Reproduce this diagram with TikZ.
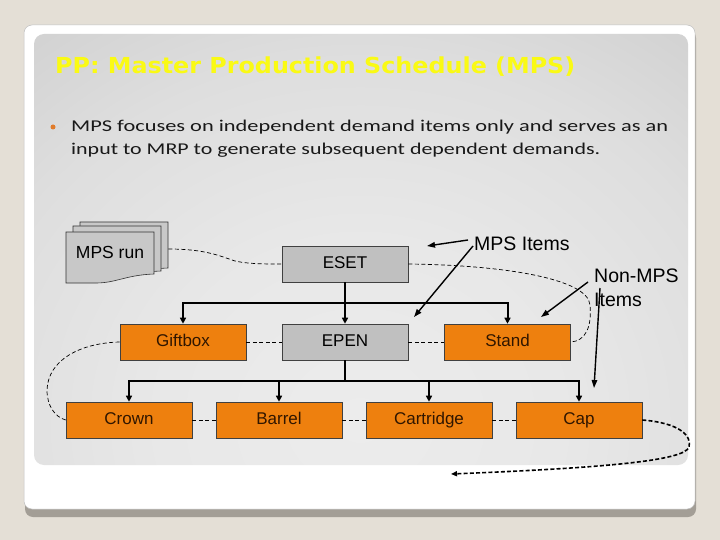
\documentclass[tikz,border=0pt]{standalone}
\usepackage{fontspec}
\setmainfont{Liberation Sans}
\newfontfamily\titlefont{DejaVu Sans}
\newfontfamily\bodyfont{Carlito}
\usetikzlibrary{arrows.meta}
\definecolor{pagebg}{RGB}{228,223,214}
\definecolor{cardshadow}{RGB}{163,158,150}
\definecolor{pcA}{RGB}{236,236,236}
\definecolor{pcB}{RGB}{232,232,232}
\definecolor{pcC}{RGB}{222,222,222}
\definecolor{pcD}{RGB}{205,205,205}
\definecolor{pcE}{RGB}{180,180,180}
\definecolor{pcF}{RGB}{164,164,164}
\definecolor{pcG}{RGB}{158,158,158}
\pgfdeclareradialshading{panelshade}{\pgfpoint{0bp}{0bp}}{color(0bp)=(pcA); color(6.25bp)=(pcB); color(12.5bp)=(pcC); color(18.75bp)=(pcD); color(25bp)=(pcE); color(30bp)=(pcF); color(50bp)=(pcG)}
\definecolor{boxgray}{RGB}{192,192,192}
\definecolor{boxorange}{RGB}{238,128,14}
\definecolor{boxtext}{RGB}{48,22,0}
\definecolor{titleyellow}{RGB}{250,250,20}
\definecolor{bulletorange}{RGB}{224,123,42}
\definecolor{sheetgray}{RGB}{200,200,200}
\begin{document}
\begin{tikzpicture}[x=1pt,y=-1pt,
  box/.style={draw=black!75, line width=0.6pt, fill=boxgray, minimum width=126pt, minimum height=36pt, inner sep=0pt, text height=12.3pt, text depth=3.6pt, font=\fontsize{17}{20}\selectfont},
  obox/.style={box, fill=boxorange, text=boxtext},
  treeline/.style={line width=2pt, -{Triangle[length=6pt,width=6pt]}},
  plainline/.style={line width=2pt},
  linkdash/.style={line width=0.7pt, dash pattern=on 4pt off 2.5pt},
  calloutarrow/.style={line width=1.4pt, -{Triangle[length=8pt,width=5.5pt]}},
  lbl/.style={font=\fontsize{19.5}{24}\selectfont, inner sep=0pt},
  sheet/.style={draw=black!80, line width=0.6pt, fill=sheetgray}]
\useasboundingbox (0,0) rectangle (720,540);
% page, card and panel
\fill[pagebg] (0,0) rectangle (720,540);
\fill[cardshadow, rounded corners=8pt] (25,30) rectangle (696,517);
\filldraw[fill=white, draw=black!25, line width=0.5pt, rounded corners=8pt] (24,25) rectangle (695,509);
\begin{scope}
  \clip[rounded corners=10pt] (34,34) rectangle (688,465);
  \shade[shading=panelshade] (-440,-300) rectangle (1160,1140);
\end{scope}
% title and bullet text
\node[anchor=base west, inner sep=0pt, text=titleyellow] (title) at (55,74)
  {\resizebox{520pt}{\height}{\titlefont\bfseries\fontsize{22}{26}\selectfont PP: Master Production Schedule (MPS)}};
\node[circle, fill=bulletorange, minimum size=5pt, inner sep=0pt] (bullet) at (53,127) {};
\node[anchor=base west, inner sep=0pt, text=black!90] (line1) at (71,132)
  {\resizebox{597pt}{\height}{\bodyfont\fontsize{16.5}{19}\selectfont MPS focuses on independent demand items only and serves as an}};
\node[anchor=base west, inner sep=0pt, text=black!90] (line2) at (71,155)
  {\resizebox{529pt}{\height}{\bodyfont\fontsize{16.5}{19}\selectfont input to MRP to generate subsequent dependent demands.}};
% MPS run document stack
\filldraw[sheet] (80,222) -- (168,222) -- (168,268) .. controls (140,269) and (130,277) .. (110,277) -- (80,277) -- cycle;
\filldraw[sheet] (73,226) -- (161,226) -- (161,271) .. controls (133,272) and (123,280) .. (103,280) -- (73,280) -- cycle;
\filldraw[sheet] (66,232) -- (154,232) -- (154,274) .. controls (126,275) and (116,283) .. (96,283) -- (66,283) -- cycle;
\node[font=\fontsize{17.5}{20}\selectfont, inner sep=0pt] (mpsrun) at (110,252) {MPS run};
\coordinate (runout) at (168.3,249);
% boxes
\node[box] (eset) at (345,264) {ESET};
\node[obox] (giftbox) at (183,342) {Giftbox};
\node[box] (epen) at (345,342) {EPEN};
\node[obox] (stand) at (507.5,342) {Stand};
\node[obox] (crown) at (129,420) {Crown};
\node[obox] (barrel) at (279,420) {Barrel};
\node[obox] (cartridge) at (429,420) {Cartridge};
\node[obox] (cap) at (579,420) {Cap};
% dashed links
\draw[linkdash] (runout) .. controls (205,249) and (220,256) .. (235,261) .. controls (248,264) and (265,264) .. (eset.west);
\draw[linkdash] (giftbox.east) -- (epen.west);
\draw[linkdash] (epen.east) -- (stand.west);
\draw[linkdash] (crown.east) -- (barrel.west);
\draw[linkdash] (barrel.east) -- (cartridge.west);
\draw[linkdash] (cartridge.east) -- (cap.west);
\draw[linkdash] (eset.east) .. controls (500,265) and (588,278) .. (590,305) .. controls (592,328) and (585,341) .. (stand.east);
\draw[linkdash] (giftbox.west) .. controls (80,343) and (48,360) .. (47,390) .. controls (47,406) and (55,417) .. (crown.west);
\coordinate (loopend) at (451,474);
\draw[line width=1.6pt, dash pattern=on 4pt off 2.2pt, -{Triangle[length=6pt,width=5pt]}]
  (cap.east) .. controls (680,423) and (692,436) .. (689,447) .. controls (685,461) and (600,468) .. (loopend);
% tree
\coordinate (bus1) at (345,303);
\coordinate (bus2) at (345,381);
\draw[treeline] (eset) -- (epen);
\draw[treeline] (bus1) -| (giftbox);
\draw[treeline] (bus1) -| (stand);
\draw[plainline] (epen) -- (bus2);
\draw[treeline] (bus2) -| (crown);
\draw[treeline] (bus2) -| (barrel);
\draw[treeline] (bus2) -| (cartridge);
\draw[treeline] (bus2) -| (cap);
% callout labels
\node[lbl, anchor=west] (mpsitems) at (474,244) {MPS Items};
\node[lbl, anchor=north west, align=left] (nonmps) at (594,269) {Non-MPS\\Items};
\coordinate (mpsA) at (427,246);
\coordinate (mpsB) at (414,317);
\coordinate (nonA) at (541,317);
\coordinate (nonB) at (594,388);
\draw[calloutarrow] ([shift={(-6,-4)}]mpsitems.west) -- (mpsA);
\draw[calloutarrow] ([shift={(-1,2)}]mpsitems.west) -- (mpsB);
\draw[calloutarrow] ([shift={(-6,13)}]nonmps.north west) -- (nonA);
\draw[calloutarrow] ([shift={(6,19)}]nonmps.north west) -- (nonB);
\end{tikzpicture}
\end{document}
